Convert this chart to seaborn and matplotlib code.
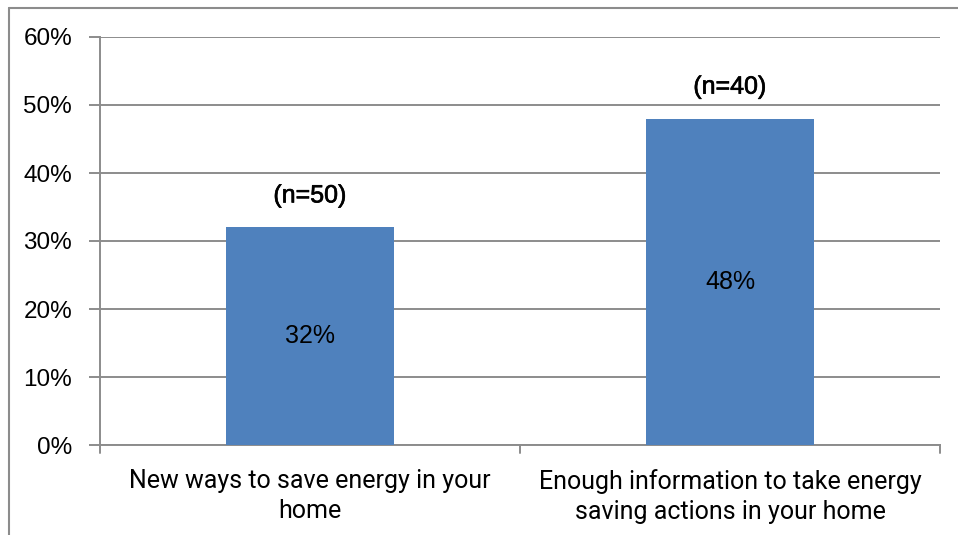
import matplotlib
matplotlib.use("Agg")
import matplotlib.pyplot as plt
import matplotlib.patheffects as pe
from matplotlib.lines import Line2D
from matplotlib.ticker import FuncFormatter, MultipleLocator
import seaborn as sns
import pandas as pd

categories = ["New ways to save energy in your\nhome",
              "Enough information to take energy\nsaving actions in your home"]
shares = [32, 48]
sample_sizes = ["(n=50)", "(n=40)"]

sns.set_theme(style="white")
plt.rcParams["font.family"] = ["Liberation Sans", "DejaVu Sans"]

df = pd.DataFrame({"category": categories, "share": shares})

fig = plt.figure(figsize=(9.58, 5.35), dpi=100)
W, H = 958, 535
ax = fig.add_axes([100 / W, 1 - 445 / H, 840 / W, 408 / H])

sns.barplot(data=df, x="category", y="share", color="#4F81BD", saturation=1,
            width=0.4, linewidth=0, ax=ax, zorder=3)

ax.set_ylim(0, 60)
ax.set_xlim(-0.5, 1.5)
ax.yaxis.set_major_locator(MultipleLocator(10))
ax.yaxis.set_major_formatter(FuncFormatter(lambda v, _: f"{v:.0f}%"))
ax.grid(axis="y", color="#8c8c8c", linewidth=1.4, zorder=0)
ax.set_axisbelow(True)
ax.set_xlabel("")
ax.set_ylabel("")

for side in ["top", "right"]:
    ax.spines[side].set_visible(False)
for side in ["left", "bottom"]:
    ax.spines[side].set_color("#8c8c8c")
    ax.spines[side].set_linewidth(1.4)

ax.tick_params(axis="y", which="major", length=8, width=1.4, color="#8c8c8c",
               direction="out", labelsize=17.5, labelcolor="black", pad=12, left=True)
ax.tick_params(axis="x", which="major", length=0, labelsize=18, labelcolor="black", pad=17)
for lbl in ax.get_xticklabels():
    lbl.set_fontfamily(["Roboto", "DejaVu Sans"])
    lbl.set_linespacing(1.33)

# category boundary ticks on the x axis
for xb in [-0.5, 0.5, 1.5]:
    ax.add_line(Line2D([xb, xb], [0, -0.02], transform=ax.get_xaxis_transform(),
                       color="#8c8c8c", linewidth=1.4, clip_on=False))

for bar, val, n in zip(ax.patches, shares, sample_sizes):
    cx = bar.get_x() + bar.get_width() / 2
    ax.text(cx, val / 2, f"{val}%", ha="center", va="center", fontsize=18, color="black")
    ax.annotate(n, (cx, val), xytext=(0, 23), textcoords="offset points",
                ha="center", va="center", fontsize=18, color="black",
                path_effects=[pe.withStroke(linewidth=0.45, foreground="black")])

# outer chart frame
fig.add_artist(Line2D([8.5 / W, 8.5 / W], [0, 1 - 7.5 / H], color="#8c8c8c", linewidth=1.5))
fig.add_artist(Line2D([8.5 / W, 1], [1 - 7.5 / H, 1 - 7.5 / H], color="#8c8c8c", linewidth=1.5))

fig.savefig("out.png", dpi=100)
